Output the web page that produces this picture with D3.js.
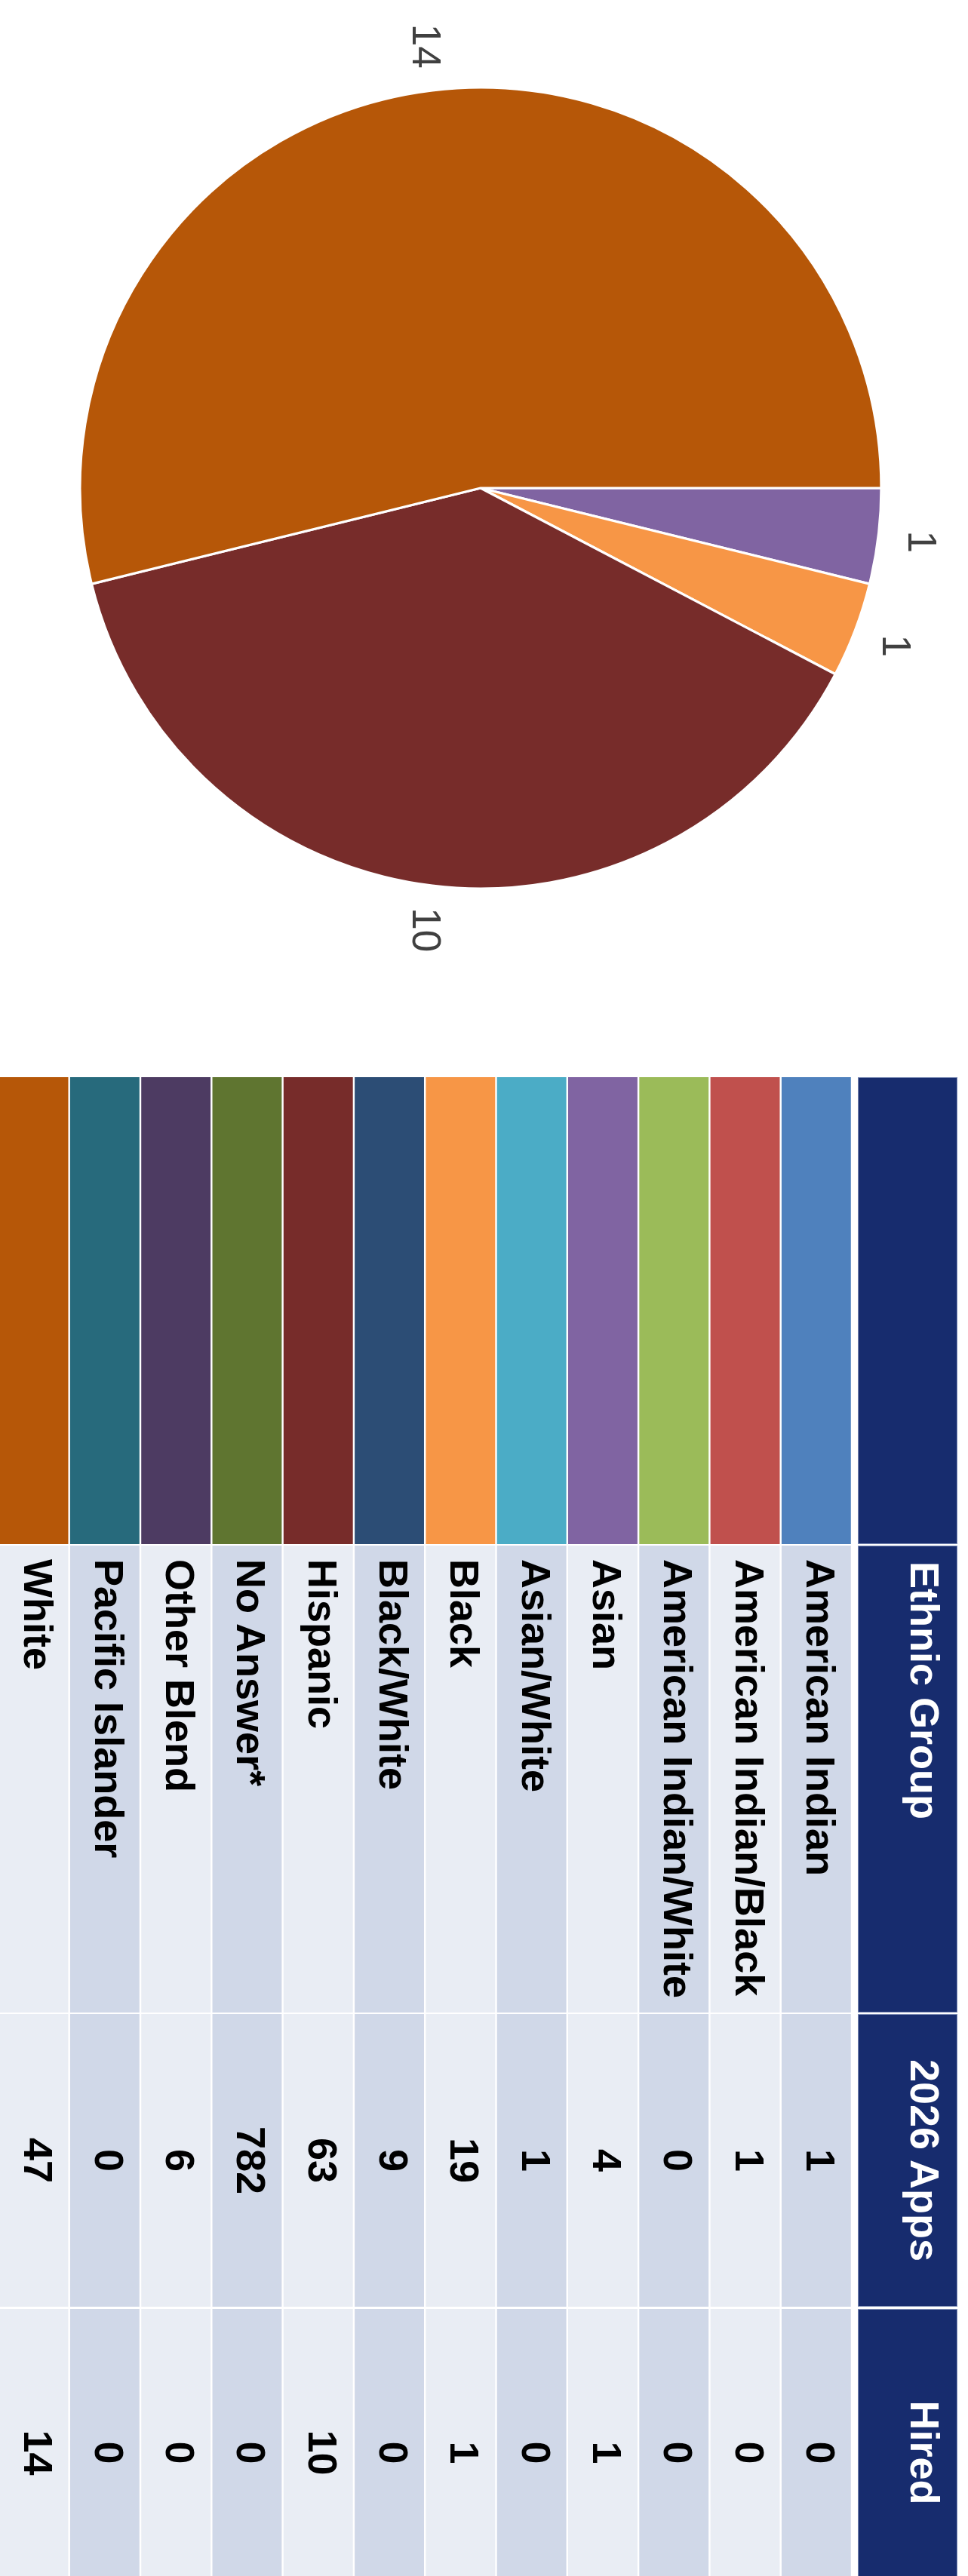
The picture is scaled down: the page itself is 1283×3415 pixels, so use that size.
<!DOCTYPE html>
<html>
<head>
<meta charset="utf-8">
<script src="https://cdn.jsdelivr.net/npm/d3@7"></script>
<style>
  html, body { margin: 0; padding: 0; background: #ffffff; }
  svg { display: block; }
</style>
</head>
<body>
<script>
// ---------------- data ----------------
const categories = [
  "American Indian", "American Indian/Black", "American Indian/White", "Asian",
  "Asian/White", "Black", "Black/White", "Hispanic", "No Answer*",
  "Other Blend", "Pacific Islander", "White"
];
const apps2026 = [1, 1, 0, 4, 1, 19, 9, 63, 782, 6, 0, 47];
const hired    = [0, 0, 0, 1, 0, 1, 0, 10, 0, 0, 0, 14];
const colors = [
  "#4f81bd", "#c0504d", "#9bbb59", "#8064a2", "#4bacc6", "#f79646",
  "#2c4d75", "#772c2a", "#5f7530", "#4d3b62", "#276a7c", "#b65708"
];
const headers = ["Ethnic Group", "2026 Apps", "Hired"];

// ---------------- layout ----------------
const W = 1283, H = 3415;
const FONT = "'Liberation Sans', Arial, Helvetica, sans-serif";
const svg = d3.select("body").append("svg").attr("width", W).attr("height", H);
// whole chart is drawn in landscape and turned 90° clockwise
const g = svg.append("g").attr("transform", `translate(${W},0) rotate(90)`);

const rows = categories.map((c, i) => ({
  name: c, apps: apps2026[i], hired: hired[i], color: colors[i], i
}));

// ---------------- pie ----------------
const pie = d3.pie().sort(null).value(d => d.hired);
const arcs = pie(rows);
const R = 531;
const arc = d3.arc().innerRadius(0).outerRadius(R);
const labelArc = d3.arc().innerRadius(590).outerRadius(590);
const pieG = g.append("g").attr("transform", "translate(647,646)");
pieG.selectAll("path")
  .data(arcs.filter(a => a.data.hired > 0))
  .join("path")
  .attr("d", arc)
  .attr("fill", d => d.data.color)
  .attr("stroke", "#ffffff")
  .attr("stroke-width", 3.2)
  .attr("stroke-linejoin", "round");
pieG.selectAll("text")
  .data(arcs.filter(a => a.data.hired > 0))
  .join("text")
  .attr("transform", d => `translate(${labelArc.centroid(d)})`)
  .attr("text-anchor", "middle")
  .attr("dy", "0.35em")
  .attr("font-family", FONT)
  .attr("font-size", 53)
  .attr("fill", "#404040")
  .text(d => d.data.hired);

// ---------------- table ----------------
const y = d3.scaleBand()
  .domain(categories)
  .range([154, 154 + 12 * 94.3])
  .paddingInner(0.026)
  .paddingOuter(0.013);

const cols = {
  swatch: [1428, 2047],
  name:   [2049, 2668],
  apps:   [2670, 3058],
  hired:  [3061, 3442]
};
const headerTop = 14, headerBottom = 146;
const navy = "#172c6e";
const tableG = g.append("g");

// header row
const headerCols = [cols.swatch, cols.name, cols.apps, cols.hired];
tableG.selectAll("rect.hdr")
  .data(headerCols)
  .join("rect")
  .attr("class", "hdr")
  .attr("x", d => d[0] + 0.5)
  .attr("y", headerTop + 0.5)
  .attr("width", d => d[1] - d[0] - 1)
  .attr("height", headerBottom - headerTop - 1)
  .attr("fill", navy)
  .attr("stroke", "#7d8db6")
  .attr("stroke-width", 1);

const hdrText = [
  { t: headers[0], x: cols.name[0] + 21, anchor: "start" },
  { t: headers[1], x: (cols.apps[0] + cols.apps[1]) / 2, anchor: "middle" },
  { t: headers[2], x: (cols.hired[0] + cols.hired[1]) / 2, anchor: "middle" }
];
tableG.selectAll("text.hdr")
  .data(hdrText)
  .join("text")
  .attr("class", "hdr")
  .attr("x", d => d.x)
  .attr("y", 76)
  .attr("text-anchor", d => d.anchor)
  .attr("font-family", FONT)
  .attr("font-weight", "bold")
  .attr("font-size", 54)
  .attr("fill", "#ffffff")
  .text(d => d.t);

// body rows
const rowG = tableG.selectAll("g.row")
  .data(rows)
  .join("g")
  .attr("class", "row")
  .attr("transform", d => `translate(0,${y(d.name)})`);

const bw = y.bandwidth();
const bg = d => (d.i % 2 === 0 ? "#d0d8e8" : "#e9edf4");

rowG.append("rect")
  .attr("x", cols.swatch[0]).attr("y", 0)
  .attr("width", cols.swatch[1] - cols.swatch[0]).attr("height", bw)
  .attr("fill", d => d.color);
rowG.append("rect")
  .attr("x", cols.name[0]).attr("y", 0)
  .attr("width", cols.name[1] - cols.name[0]).attr("height", bw)
  .attr("fill", bg);
rowG.append("rect")
  .attr("x", cols.apps[0]).attr("y", 0)
  .attr("width", cols.apps[1] - cols.apps[0]).attr("height", bw)
  .attr("fill", bg);
rowG.append("rect")
  .attr("x", cols.hired[0]).attr("y", 0)
  .attr("width", cols.hired[1] - cols.hired[0]).attr("height", bw)
  .attr("fill", bg);

const textBase = bw / 2 + 13;
rowG.append("text")
  .attr("x", cols.name[0] + 18).attr("y", textBase)
  .attr("font-family", FONT).attr("font-weight", "bold").attr("font-size", 54)
  .attr("fill", "#000000")
  .text(d => d.name);
rowG.append("text")
  .attr("x", (cols.apps[0] + cols.apps[1]) / 2).attr("y", textBase)
  .attr("text-anchor", "middle")
  .attr("font-family", FONT).attr("font-weight", "bold").attr("font-size", 54)
  .attr("fill", "#000000")
  .text(d => d.apps);
rowG.append("text")
  .attr("x", (cols.hired[0] + cols.hired[1]) / 2).attr("y", textBase)
  .attr("text-anchor", "middle")
  .attr("font-family", FONT).attr("font-weight", "bold").attr("font-size", 54)
  .attr("fill", "#000000")
  .text(d => d.hired);
</script>
</body>
</html>
